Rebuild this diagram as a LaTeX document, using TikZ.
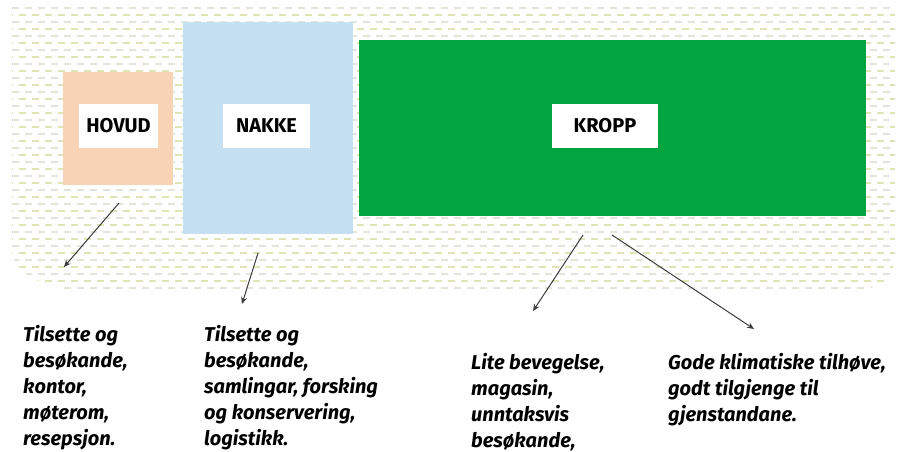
\documentclass[tikz,border=0pt]{standalone}
\usepackage{fontspec}
\setsansfont{Fira Sans}
\usetikzlibrary{arrows.meta}
\definecolor{hovudfill}{HTML}{F9D3B6}
\definecolor{nakkefill}{HTML}{C5E1F1}
\definecolor{kroppfill}{HTML}{00A540}
\definecolor{grassa}{HTML}{E0E3B4}
\definecolor{grassb}{HTML}{E3E4DA}
\definecolor{pointergrey}{HTML}{3C3C3C}
\begin{document}
\begin{tikzpicture}[x=1pt,y=-1pt,
  area/.style={anchor=north west,inner sep=0pt,outer sep=0pt},
  tag/.style={fill=white,inner sep=0pt,minimum height=44pt,font=\sffamily\bfseries\fontsize{20}{20}\selectfont},
  note/.style={anchor=north west,inner sep=0pt,align=left,font=\sffamily\bfseries\itshape\fontsize{20}{26}\selectfont},
  pointer/.style={draw=pointergrey,line width=1pt,-{Stealth[length=7pt,width=6pt]}}]
\useasboundingbox (0,0) rectangle (905,452);
\begin{scope}
\clip (12,5) -- (895,5) -- (895,255) .. controls (895,285) and (870,292) .. (840,292) -- (100,292) .. controls (50,292) and (12,275) .. (12,250) -- cycle;
\foreach \r in {0,...,41} {
  \pgfmathsetmacro\ry{8+7*\r}
  \ifodd\r
    \draw[grassa,line width=1.2pt,dash pattern=on 7pt off 6pt,dash phase=6pt] (12,\ry) -- (895,\ry);
  \else
    \draw[grassb,line width=1.2pt,dash pattern=on 7pt off 6pt] (12,\ry) -- (895,\ry);
  \fi
}
\end{scope}
\node[area,fill=hovudfill,minimum width=110pt,minimum height=113pt] (hovud) at (63,72) {};
\node[area,fill=nakkefill,minimum width=170pt,minimum height=212pt] (nakke) at (183,22) {};
\node[area,fill=kroppfill,minimum width=507pt,minimum height=176pt] (kropp) at (359,40) {};
\node[tag,minimum width=79pt] (hovudtag) at (118.5,126) {HOVUD};
\node[tag,minimum width=87pt] (nakketag) at (266.5,126) {NAKKE};
\node[tag,minimum width=106pt] (kropptag) at (605,126) {KROPP};
\coordinate (hovudfoot) at (119,203);
\coordinate (hovudtip) at (64,267);
\coordinate (nakkefoot) at (258,253);
\coordinate (nakketip) at (242,304);
\coordinate (kroppfoot) at (583,235);
\coordinate (kropptip) at (533,311);
\coordinate (klimafoot) at (612,235);
\coordinate (klimatip) at (754,329);
\draw[pointer] (hovudfoot) -- (hovudtip);
\draw[pointer] (nakkefoot) -- (nakketip);
\draw[pointer] (kroppfoot) -- (kropptip);
\draw[pointer] (klimafoot) -- (klimatip);
\node[note] (hovudnote) at (23,325) {Tilsette og\\besøkande,\\kontor,\\møterom,\\resepsjon.};
\node[note] (nakkenote) at (204,325) {Tilsette og\\besøkande,\\samlingar, forsking\\og konservering,\\logistikk.};
\node[note] (kroppnote) at (471,353) {Lite bevegelse,\\magasin,\\unntaksvis\\besøkande,};
\node[note] (klimanote) at (668,353) {Gode klimatiske tilhøve,\\godt tilgjenge til\\gjenstandane.};
\end{tikzpicture}
\end{document}
